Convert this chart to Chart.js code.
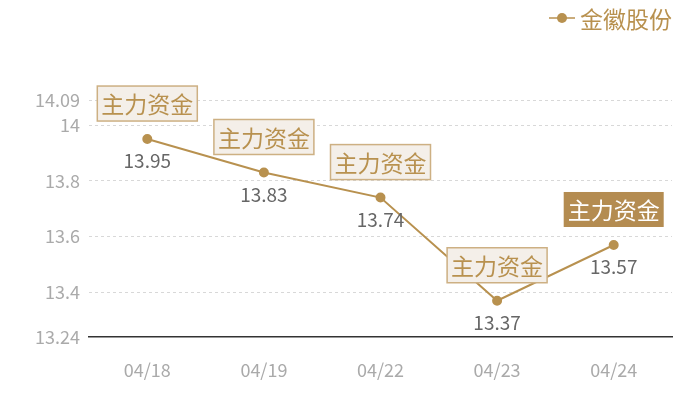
<!DOCTYPE html>
<html>
<head>
<meta charset="utf-8">
<script src="https://cdn.jsdelivr.net/npm/chart.js@4/dist/chart.umd.min.js"></script>
<style>
html,body{margin:0;padding:0;background:#fff;}
#wrap{width:700px;height:400px;}
</style>
</head>
<body>
<div id="wrap"><canvas id="c" width="700" height="400"></canvas></div>
<script>
const categories = ['04/18', '04/19', '04/22', '04/23', '04/24'];
const prices = [13.95, 13.83, 13.74, 13.37, 13.57];
const yTicks = [13.24, 13.4, 13.6, 13.8, 14, 14.09];
const seriesName = '金徽股份';
const tagText = '主力资金';
const highlightIndex = 4;

const GOLD = '#b8914f';
const FONT = '"Noto Sans CJK SC", "Noto Sans", sans-serif';

const overlay = {
  id: 'overlay',
  afterDatasetsDraw(chart) {
    const ctx = chart.ctx;
    const meta = chart.getDatasetMeta(0);
    ctx.save();
    meta.data.forEach((pt, i) => {
      // value labels
      ctx.font = '19px ' + FONT;
      ctx.fillStyle = '#666';
      ctx.textAlign = 'center';
      ctx.textBaseline = 'middle';
      ctx.fillText(String(prices[i]), pt.x, pt.y + 22);
      // tag boxes
      ctx.font = '23px ' + FONT;
      const tw = ctx.measureText(tagText).width;
      const w = tw + 8, h = 35;
      const bx = pt.x - w / 2, by = pt.y - 18 - h;
      if (i === highlightIndex) {
        ctx.fillStyle = '#b48c51';
        ctx.fillRect(bx, by, w, h);
        ctx.fillStyle = '#ffffff';
      } else {
        ctx.fillStyle = '#f4efe9';
        ctx.fillRect(bx, by, w, h);
        ctx.strokeStyle = '#cdb083';
        ctx.lineWidth = 1.5;
        ctx.strokeRect(bx, by, w, h);
        ctx.fillStyle = GOLD;
      }
      ctx.fillText(tagText, pt.x, by + h / 2 + 1);
    });
    // legend
    ctx.strokeStyle = GOLD;
    ctx.lineWidth = 1.5;
    ctx.beginPath();
    ctx.moveTo(549, 18);
    ctx.lineTo(575, 18);
    ctx.stroke();
    ctx.fillStyle = GOLD;
    ctx.beginPath();
    ctx.arc(562, 18, 5, 0, Math.PI * 2);
    ctx.fill();
    ctx.font = '23px ' + FONT;
    ctx.textAlign = 'left';
    ctx.textBaseline = 'middle';
    ctx.fillText(seriesName, 580, 19);
    ctx.restore();
  }
};

new Chart(document.getElementById('c'), {
  type: 'line',
  data: {
    labels: categories,
    datasets: [{
      label: seriesName,
      data: prices,
      borderColor: GOLD,
      backgroundColor: GOLD,
      borderWidth: 2,
      pointRadius: 4,
      pointBackgroundColor: GOLD,
      pointBorderColor: GOLD,
      tension: 0
    }]
  },
  options: {
    responsive: false,
    animation: false,
    devicePixelRatio: 1,
    layout: { padding: { top: 100, left: 0, right: 28, bottom: 0 } },
    plugins: { legend: { display: false }, tooltip: { enabled: false } },
    scales: {
      x: {
        offset: true,
        grid: { display: false, drawTicks: false },
        border: { display: true, color: '#333', width: 1.5 },
        ticks: { color: '#aaa', font: { size: 18, family: FONT }, padding: 22 },
        afterFit(s) { s.height = 63; }
      },
      y: {
        min: 13.24,
        max: 14.09,
        afterBuildTicks(s) { s.ticks = yTicks.map(v => ({ value: v })); },
        afterFit(s) { s.width = 89; },
        grid: {
          drawTicks: false,
          color: (c) => (c.tick && c.tick.value === 13.24) ? 'rgba(0,0,0,0)' : '#d8d8d8',
          lineWidth: 1
        },
        border: { display: false, dash: [3, 3] },
        ticks: {
          color: '#aaa',
          font: { size: 18, family: FONT },
          padding: 9,
          callback: (v) => String(Number(Number(v).toFixed(2)))
        }
      }
    }
  },
  plugins: [overlay]
});
</script>
</body>
</html>
